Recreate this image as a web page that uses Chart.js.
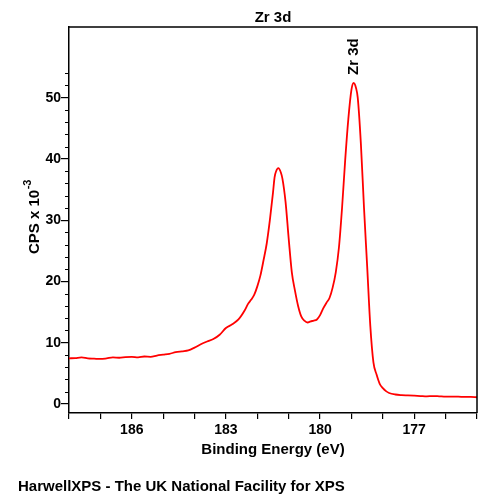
<!DOCTYPE html>
<html>
<head>
<meta charset="utf-8">
<script src="https://cdn.jsdelivr.net/npm/chart.js@4.4.0/dist/chart.umd.min.js"></script>
<style>
  body { margin: 0; background: #fff; }
  canvas { display: block; }
</style>
</head>
<body>
<canvas id="xps" width="500" height="500"></canvas>
<script>
// binding energy (eV) and counts (CPS x 10^-3)
var energy = [188.0, 187.8, 187.6, 187.4, 187.2, 187.0, 186.8, 186.6, 186.4, 186.2,
  186.0, 185.8, 185.6, 185.4, 185.2, 185.0, 184.8, 184.6, 184.4, 184.2,
  184.0, 183.8, 183.6, 183.4, 183.2, 183.0, 182.8, 182.6, 182.4, 182.3,
  182.2, 182.1, 182.0, 181.9, 181.8, 181.7, 181.6, 181.5, 181.45, 181.4,
  181.33, 181.25, 181.2, 181.1, 181.0, 180.9, 180.8, 180.7, 180.6, 180.5,
  180.4, 180.3, 180.2, 180.1, 180.0, 179.9, 179.8, 179.7, 179.6, 179.5,
  179.4, 179.3, 179.2, 179.1, 179.0, 178.93, 178.85, 178.8, 178.7, 178.6,
  178.5, 178.4, 178.3, 178.2, 178.1, 178.0, 177.9, 177.8, 177.6, 177.4,
  177.2, 177.0, 176.8, 176.6, 176.4, 176.2, 176.0, 175.8, 175.6, 175.4,
  175.2, 175.0];
var cps = [7.45, 7.5, 7.6, 7.45, 7.4, 7.35, 7.45, 7.6, 7.55, 7.65,
  7.7, 7.6, 7.75, 7.7, 7.9, 8.05, 8.2, 8.45, 8.6, 8.75,
  9.2, 9.75, 10.2, 10.6, 11.3, 12.4, 13.0, 13.8, 15.3, 16.3,
  17.0, 17.8, 19.2, 21.0, 23.5, 26.2, 30.0, 34.5, 37.0, 38.0,
  38.5, 37.8, 36.8, 33.0, 27.0, 21.5, 18.5, 16.0, 14.3, 13.6,
  13.3, 13.5, 13.6, 13.8, 14.5, 15.6, 16.5, 17.3, 19.0, 21.5,
  25.5, 32.0, 39.8, 46.5, 51.3, 52.4, 51.5, 50.0, 42.5, 32.0,
  22.5, 12.8, 6.8, 4.8, 3.3, 2.6, 2.1, 1.8, 1.55, 1.45,
  1.4, 1.35, 1.3, 1.25, 1.3, 1.25, 1.2, 1.2, 1.2, 1.15,
  1.15, 1.1];

var xTicks = [188, 187, 186, 185, 184, 183, 182, 181, 180, 179, 178, 177, 176, 175];
var xLabels = [186, 183, 180, 177];
var yMajor = [0, 10, 20, 30, 40, 50];
var yMinor = [2, 4, 6, 8, 12, 14, 16, 18, 22, 24, 26, 28, 32, 34, 36, 38, 42, 44, 46, 48, 52, 54];

var peakNames = ["Zr 3d"];
var peakEnergy = [178.93];
var peakCps = [52.4];

var FONT = "'Liberation Sans', Arial, sans-serif";

var extras = {
  id: "extras",
  afterDraw: function (chart) {
    var ctx = chart.ctx;
    var a = chart.chartArea;
    var xs = chart.scales.x, ys = chart.scales.y;
    ctx.save();
    ctx.strokeStyle = "#000";
    ctx.lineWidth = 1.5;
    // top and right frame
    ctx.beginPath();
    ctx.moveTo(a.left, a.top);
    ctx.lineTo(a.right, a.top);
    ctx.lineTo(a.right, a.bottom);
    ctx.stroke();
    // minor y ticks
    ctx.beginPath();
    yMinor.forEach(function (v) {
      var py = Math.round(ys.getPixelForValue(v)) + 0.5;
      ctx.moveTo(a.left - 4, py);
      ctx.lineTo(a.left, py);
    });
    ctx.lineWidth = 1.2;
    ctx.stroke();

    ctx.fillStyle = "#000";
    ctx.font = "bold 15px " + FONT;
    ctx.textAlign = "center";
    ctx.textBaseline = "middle";
    ctx.fillText("Zr 3d", (a.left + a.right) / 2, 18);
    ctx.fillText("Binding Energy (eV)", (a.left + a.right) / 2, 450);

    ctx.textAlign = "left";
    ctx.fillText("HarwellXPS - The UK National Facility for XPS", 18, 487);

    // peak labels
    peakNames.forEach(function (name, i) {
      var px = xs.getPixelForValue(peakEnergy[i]);
      var py = ys.getPixelForValue(peakCps[i]);
      ctx.save();
      ctx.translate(px, py - 8);
      ctx.rotate(-Math.PI / 2);
      ctx.textAlign = "left";
      ctx.textBaseline = "middle";
      ctx.fillText(name, 0, 0);
      ctx.restore();
    });

    // y axis title with superscript
    var main = "CPS x 10", sup = "-3";
    ctx.font = "bold 15px " + FONT;
    var w1 = ctx.measureText(main).width;
    ctx.font = "bold 11px " + FONT;
    var w2 = ctx.measureText(sup).width;
    ctx.save();
    ctx.translate(35, (a.top + a.bottom) / 2 - 3);
    ctx.rotate(-Math.PI / 2);
    ctx.textAlign = "left";
    ctx.textBaseline = "middle";
    var start = -(w1 + w2) / 2;
    ctx.font = "bold 15px " + FONT;
    ctx.fillText(main, start, 0);
    ctx.font = "bold 11px " + FONT;
    ctx.fillText(sup, start + w1 + 0.5, -7);
    ctx.restore();
    ctx.restore();
  }
};

var points = energy.map(function (e, i) { return { x: e, y: cps[i] }; });

new Chart(document.getElementById("xps"), {
  type: "line",
  data: {
    datasets: [{
      data: points,
      borderColor: "#ff0000",
      borderWidth: 1.8,
      pointRadius: 0,
      cubicInterpolationMode: "monotone",
      fill: false
    }]
  },
  options: {
    responsive: false,
    animation: false,
    layout: { padding: { top: 27, right: 23, left: 0, bottom: 0 } },
    plugins: { legend: { display: false }, tooltip: { enabled: false }, title: { display: false } },
    scales: {
      x: {
        type: "linear",
        reverse: true,
        min: 175,
        max: 188,
        afterFit: function (s) { s.height = 87; },
        afterBuildTicks: function (s) { s.ticks = xTicks.map(function (v) { return { value: v }; }); },
        grid: { drawOnChartArea: false, tickLength: 6, color: "#000", lineWidth: 1.2 },
        border: { color: "#000", width: 1.5 },
        ticks: {
          padding: 3,
          autoSkip: false,
          maxRotation: 0,
          color: "#000",
          font: { family: FONT, weight: "bold", size: 14 },
          callback: function (v) { return xLabels.indexOf(v) >= 0 ? String(v) : ""; }
        }
      },
      y: {
        min: -1.47,
        max: 61.54,
        afterFit: function (s) { s.width = 69; },
        afterBuildTicks: function (s) { s.ticks = yMajor.map(function (v) { return { value: v }; }); },
        grid: { drawOnChartArea: false, tickLength: 8, color: "#000", lineWidth: 1.2 },
        border: { color: "#000", width: 1.5 },
        ticks: {
          padding: 0,
          color: "#000",
          font: { family: FONT, weight: "bold", size: 14 }
        }
      }
    }
  },
  plugins: [extras]
});
</script>
</body>
</html>
